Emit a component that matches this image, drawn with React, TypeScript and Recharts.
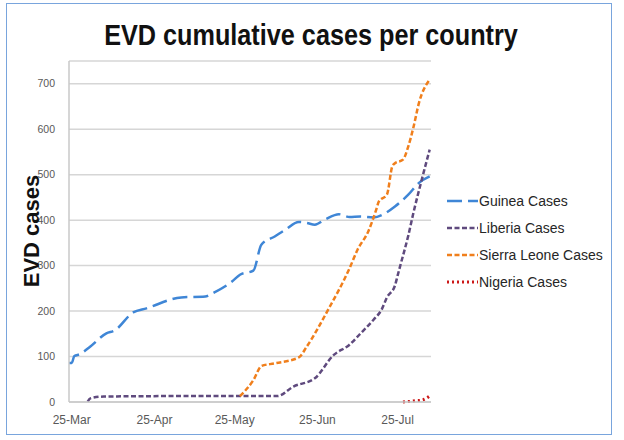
import { LineChart, Line, XAxis, YAxis, CartesianGrid } from "recharts";

// days counted from 25 March, cumulative cases
const guinea: [number, number][] = [
  [-1, 86], [0, 86], [1, 101], [3, 105], [7, 122], [13, 151], [16, 157], [23, 197],
  [28, 206], [41, 230], [50, 232], [53, 240], [60, 265], [63, 280], [68, 289],
  [71, 346], [76, 364], [80, 379], [85, 396], [88, 394], [91, 390], [95, 402],
  [100, 413], [104, 407], [108, 408], [113, 406], [117, 414], [121, 430],
  [126, 456], [130, 482], [134, 496],
];

const liberia: [number, number][] = [
  [6, 1], [7, 8], [12, 12], [40, 13], [77, 13], [83, 34], [91, 52], [98, 103],
  [104, 126], [108, 150], [113, 181], [116, 203], [118, 230], [121, 256],
  [122, 278], [123, 300], [126, 366], [128, 418], [131, 488], [134, 555],
];

const sierraLeone: [number, number][] = [
  [63, 13], [68, 48], [71, 79], [76, 85], [85, 98], [88, 122], [96, 203],
  [104, 294], [107, 335], [111, 375], [114, 423], [115, 441], [118, 456],
  [120, 518], [121, 525], [124, 533], [126, 562], [128, 606], [130, 658], [134, 709],
];

const nigeria: [number, number][] = [
  [124, 0], [126, 1], [129, 3], [131, 4], [133, 9], [134, 13],
];

const tickDays = [0, 31, 61, 92, 122];
const tickLabels = ["25-Mar", "25-Apr", "25-May", "25-Jun", "25-Jul"];
const yTicks = [0, 100, 200, 300, 400, 500, 600, 700];

const toPoints = (rows: [number, number][]) => rows.map(([day, cases]) => ({ day, cases }));

const series = [
  { name: "Guinea Cases", rows: guinea, color: "#3f86d6", dash: "15 6", width: 2.5 },
  { name: "Liberia Cases", rows: liberia, color: "#5f4a7e", dash: "5 2.5", width: 2.5 },
  { name: "Sierra Leone Cases", rows: sierraLeone, color: "#f07f1c", dash: "5 2.5", width: 2.5 },
  { name: "Nigeria Cases", rows: nigeria, color: "#cc1818", dash: "2 3", width: 3 },
];

const font = '"Liberation Sans", Arial, sans-serif';

export default function App() {
  return (
    <div style={{ position: "absolute", left: 0, top: 0, width: 624, height: 440, background: "#fff", fontFamily: font }}>
      <div
        style={{
          position: "absolute", left: 6, top: 3, width: 604, height: 430,
          border: "1.5px solid #79a5dd",
        }}
      />
      <div style={{ position: "absolute", left: 0, top: 0 }}>
        <LineChart width={624} height={440} margin={{ top: 61, right: 193, bottom: 8, left: 0 }}>
          <CartesianGrid vertical={false} stroke="#d6d6d6" strokeWidth={1.5} />
          <XAxis
            dataKey="day"
            type="number"
            domain={[-1, 134.5]}
            allowDataOverflow
            ticks={tickDays}
            tickFormatter={(v) => tickLabels[tickDays.indexOf(v)] ?? ""}
            interval={0}
            height={30}
            tickLine={false}
            tickMargin={7}
            axisLine={{ stroke: "#c8c8c8", strokeWidth: 1.5 }}
            tick={{ fill: "#595959", stroke: "none", fontSize: 12, fontFamily: font }}
          />
          <YAxis
            type="number"
            domain={[0, 750]}
            ticks={yTicks}
            interval={0}
            width={69}
            tickLine={false}
            tickMargin={8}
            axisLine={{ stroke: "#c8c8c8", strokeWidth: 1.5 }}
            tick={{ fill: "#595959", stroke: "none", fontSize: 10.5, fontFamily: font }}
          />
          {series.map((s) => (
            <Line
              key={s.name}
              name={s.name}
              data={toPoints(s.rows)}
              dataKey="cases"
              type="monotone"
              stroke={s.color}
              strokeWidth={s.width}
              strokeDasharray={s.dash}
              dot={false}
              activeDot={false}
              isAnimationActive={false}
            />
          ))}
        </LineChart>
      </div>
      <div
        style={{
          position: "absolute", left: 0, top: 21, width: 622, height: 29,
          lineHeight: "29px", fontSize: 29, fontWeight: 700, color: "#111",
          textAlign: "center", transform: "scaleX(0.87)", whiteSpace: "nowrap",
        }}
      >
        EVD cumulative cases per country
      </div>
      <div
        style={{
          position: "absolute", left: 32, top: 231, fontSize: 22, lineHeight: "22px",
          fontWeight: 700, color: "#111", whiteSpace: "nowrap",
          transform: "translate(-50%, -50%) rotate(-90deg)",
        }}
      >
        EVD cases
      </div>
      <div style={{ position: "absolute", left: 447, top: 187 }}>
        {series.map((s) => (
          <div key={s.name} style={{ display: "flex", alignItems: "center", height: 27 }}>
            <svg width={31} height={6} style={{ display: "block" }}>
              <line x1={0} y1={3} x2={31} y2={3} stroke={s.color} strokeWidth={s.width} strokeDasharray={s.dash} />
            </svg>
            <span style={{ fontSize: 14, color: "#262626", marginLeft: 1, whiteSpace: "nowrap" }}>{s.name}</span>
          </div>
        ))}
      </div>
    </div>
  );
}
